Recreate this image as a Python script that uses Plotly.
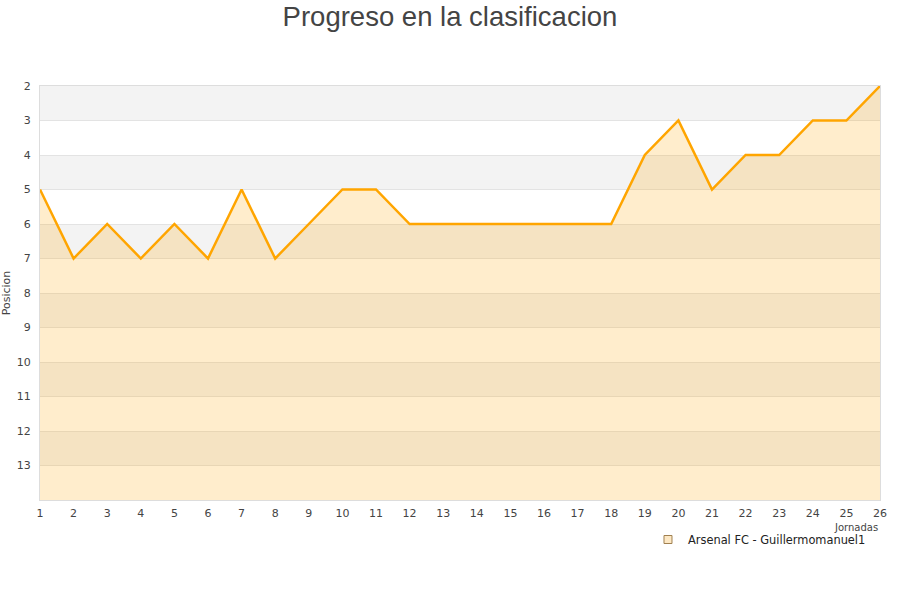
import plotly.graph_objects as go

jornadas = list(range(1, 27))
posicion = [5, 7, 6, 7, 6, 7, 5, 7, 6, 5, 5, 6, 6, 6, 6, 6, 6, 6, 4, 3, 5, 4, 4, 3, 3, 2]
y_ticks = list(range(2, 14))
fondo = 14

fig = go.Figure()

# baseline for the fill (reversed axis, so fill down to the bottom)
fig.add_trace(go.Scatter(x=jornadas, y=[fondo] * len(jornadas), mode="lines",
                         line=dict(width=0), showlegend=False, hoverinfo="skip"))
fig.add_trace(go.Scatter(x=jornadas, y=posicion, mode="lines", fill="tonexty",
                         fillcolor="rgba(255,165,0,0.2)",
                         line=dict(color="#ffa500", width=2.5),
                         name="Arsenal FC - Guillermomanuel1", showlegend=False))
# legend entry with square symbol
fig.add_trace(go.Scatter(x=[None], y=[None], mode="markers",
                         marker=dict(symbol="square", size=8, color="#fde8c4",
                                     line=dict(color="#a08050", width=1)),
                         name="Arsenal FC - Guillermomanuel1"))

# alternating bands
for y0 in range(2, fondo, 2):
    fig.add_shape(type="rect", xref="paper", yref="y", x0=0, x1=1, y0=y0, y1=y0 + 1,
                  fillcolor="#f3f3f3", line=dict(width=0), layer="below")

fig.add_annotation(text="Jornadas", xref="paper", yref="paper", x=1.0, y=-0.0655,
                   xanchor="right", yanchor="middle", showarrow=False,
                   font=dict(size=10, color="#444"))

fig.update_layout(
    width=900, height=600,
    paper_bgcolor="white", plot_bgcolor="white",
    font=dict(family="DejaVu Sans", size=11, color="#444"),
    title=dict(text="Progreso en la clasificacion", x=0.5, y=0.9733, xanchor="center",
               yanchor="middle",
               font=dict(family="Liberation Sans", size=27.5, color="#444")),
    margin=dict(l=40, r=20, t=86, b=100),
    showlegend=True,
    legend=dict(x=0.7238, y=-0.0604, xanchor="left", yanchor="top",
                bgcolor="rgba(0,0,0,0)", font=dict(size=11.4, color="#222")),
    xaxis=dict(range=[1, 26], tickmode="array", tickvals=jornadas, showgrid=False,
               showline=True, linecolor="#ddd", mirror=True, ticks="", zeroline=False,
               automargin=False, ticklabelstandoff=3),
    yaxis=dict(range=[fondo, 2], tickmode="array", tickvals=y_ticks, showgrid=True,
               gridcolor="#e3e3e3", showline=True, linecolor="#ddd", mirror=True,
               ticks="", zeroline=False, automargin=False, ticklabelstandoff=6,
               title=dict(text="Posicion", font=dict(size=11), standoff=5)),
)

# page without body margin so the figure sits at the window's corner
fig.write_html("out.html", config={"displayModeBar": False},
               post_script="document.body.style.margin = '0';")
